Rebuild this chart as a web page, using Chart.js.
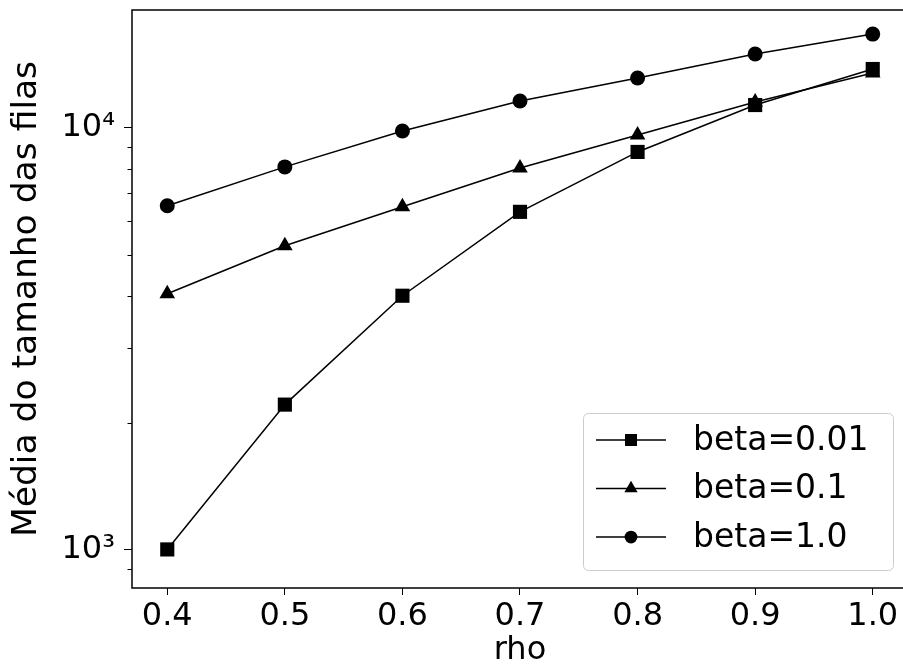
<!DOCTYPE html>
<html><head><meta charset="utf-8">
<script src="https://cdn.jsdelivr.net/npm/chart.js@4/dist/chart.umd.min.js"></script>
<style>html,body{margin:0;padding:0;overflow:hidden;background:#fff;width:903px;height:670px}canvas{display:block}</style>
</head><body>
<canvas id="c" width="918" height="670"></canvas>
<script>
const rho = [0.4, 0.5, 0.6, 0.7, 0.8, 0.9, 1.0];
const beta001 = [1000, 2206, 3999, 6324, 8772, 11335, 13800];
const beta01 = [4043, 5254, 6500, 8037, 9625, 11523, 13500];
const beta1 = [6536, 8085, 9838, 11588, 13138, 14980, 16700];
const seriesLabels = ['beta=0.01', 'beta=0.1', 'beta=1.0'];
const xTicks = [0.4, 0.5, 0.6, 0.7, 0.8, 0.9, 1.0];
const yMajorTicks = [1000, 10000];
const yMajorLabels = {1000: '10\u00B3', 10000: '10\u2074'};
const yMinorTicks = [900, 2000, 3000, 4000, 5000, 6000, 7000, 8000, 9000];

const FONT = 'DejaVu Sans';
const styles = [
  {pointStyle: 'rect', radius: 10},
  {pointStyle: 'triangle', radius: 9},
  {pointStyle: 'circle', radius: 7.5}
];
const seriesData = [beta001, beta01, beta1];

const datasets = seriesData.map((vals, i) => ({
  label: seriesLabels[i],
  data: rho.map((x, j) => ({x: x, y: vals[j]})),
  borderColor: '#000',
  backgroundColor: '#000',
  borderWidth: 1.5,
  pointStyle: styles[i].pointStyle,
  pointRadius: styles[i].radius,
  pointHoverRadius: styles[i].radius,
  pointBorderWidth: 0,
  pointBackgroundColor: '#000',
  showLine: true,
  fill: false,
  tension: 0
}));

const framePlugin = {
  id: 'frame',
  afterDatasetsDraw(chart) {
    const {ctx, chartArea: a} = chart;
    ctx.save();
    ctx.strokeStyle = '#000';
    ctx.lineWidth = 1.5;
    ctx.strokeRect(a.left, a.top, a.right - a.left, a.bottom - a.top);
    const ys = chart.scales.y;
    ctx.lineWidth = 1;
    ctx.beginPath();
    yMinorTicks.forEach(v => {
      const py = Math.round(ys.getPixelForValue(v)) + 0.5;
      ctx.moveTo(a.left, py);
      ctx.lineTo(a.left - 4.5, py);
    });
    ctx.stroke();
    ctx.restore();
  }
};

const legendPlugin = {
  id: 'boxLegend',
  afterDraw(chart) {
    const {ctx, chartArea: a} = chart;
    const bx = a.right - 325, by = a.bottom - 175, bw = 310, bh = 157;
    ctx.save();
    ctx.fillStyle = 'rgba(255,255,255,0.85)';
    ctx.strokeStyle = '#cccccc';
    ctx.lineWidth = 1;
    ctx.beginPath();
    ctx.roundRect(bx + 0.5, by + 0.5, bw, bh, 5);
    ctx.fill();
    ctx.stroke();
    chart.data.datasets.forEach((ds, i) => {
      const cy = by + 27 + i * 48.5;
      ctx.strokeStyle = '#000';
      ctx.lineWidth = 1.5;
      ctx.beginPath();
      ctx.moveTo(bx + 13, cy);
      ctx.lineTo(bx + 83, cy);
      ctx.stroke();
      ctx.fillStyle = '#000';
      Chart.helpers.drawPoint(ctx, {pointStyle: ds.pointStyle, radius: ds.pointRadius * 0.85, rotation: 0, borderWidth: 0}, bx + 48, cy);
      ctx.fillStyle = '#000';
      ctx.font = '33px "' + FONT + '"';
      ctx.textBaseline = 'middle';
      ctx.textAlign = 'left';
      ctx.fillText(ds.label, bx + 110, cy + 1);
    });
    ctx.restore();
  }
};

new Chart(document.getElementById('c'), {
  type: 'line',
  data: {datasets},
  plugins: [framePlugin, legendPlugin],
  options: {
    responsive: false,
    animation: false,
    events: [],
    layout: {padding: {left: 0, right: 0, top: 0, bottom: 0}},
    plugins: {legend: {display: false}, tooltip: {enabled: false}},
    scales: {
      x: {
        type: 'linear',
        min: 0.37,
        max: 1.03,
        afterBuildTicks(scale) { scale.ticks = xTicks.map(v => ({value: v})); },
        afterFit(scale) { scale.height = 82; },
        grid: {drawOnChartArea: false, tickLength: 7, color: '#000', tickWidth: 1},
        border: {display: false},
        ticks: {
          color: '#000',
          font: {family: FONT, size: 32},
          padding: 2,
          maxRotation: 0,
          callback: v => Number(v).toFixed(1)
        },
        title: {display: true, text: 'rho', color: '#000', font: {family: FONT, size: 32}, padding: {top: 0, bottom: 0}}
      },
      y: {
        type: 'logarithmic',
        min: 810,
        max: 19050,
        afterBuildTicks(scale) { scale.ticks = yMajorTicks.map(v => ({value: v, major: true})); },
        afterFit(scale) { scale.width = 132; },
        grid: {drawOnChartArea: false, tickLength: 8, color: '#000', tickWidth: 1},
        border: {display: false},
        ticks: {
          color: '#000',
          font: {family: FONT, size: 32, lineHeight: 0.05},
          padding: 9,
          callback: v => yMajorLabels[v] || ''
        },
        title: {display: true, text: 'Média do tamanho das filas', color: '#000', font: {family: FONT, size: 34.5}, padding: {top: 6, bottom: 0}}
      }
    }
  }
});
</script>
</body></html>
